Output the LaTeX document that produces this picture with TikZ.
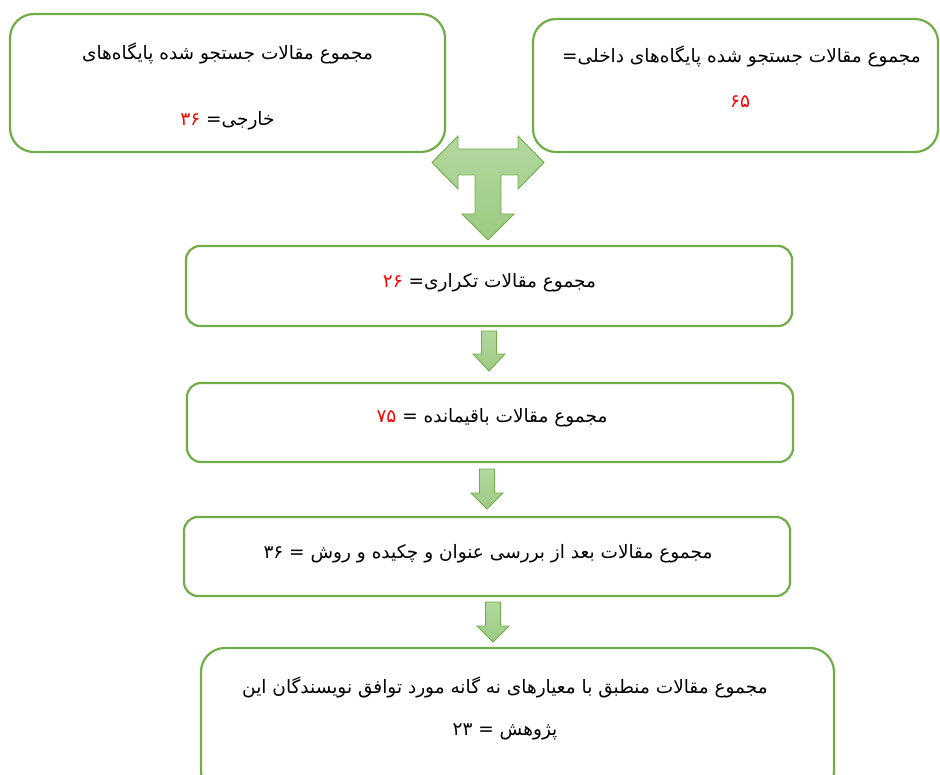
\documentclass[tikz,border=0pt]{standalone}
\usepackage{fontspec}
\usetikzlibrary{calc}
\TeXXeTstate=1
\newfontfamily\arabicfont[Script=Arabic]{DejaVu Sans}
\definecolor{boxgreen}{HTML}{70AD47}
\definecolor{arrowtop}{HTML}{B3D89F}
\definecolor{arrowbot}{HTML}{9DCA82}
\definecolor{numred}{HTML}{FF0000}
\newcommand\rtltext[1]{\beginR #1\endR}
\newcommand\ltrnum[1]{\beginL #1\endL{}}
\newcommand\rednum[1]{\beginL\textcolor{numred}{#1}\endL{}}
\tikzset{
  box/.style={draw=boxgreen, line width=2.2pt, rounded corners=#1, inner sep=0pt},
  txt/.style={font=\arabicfont\fontsize{18.5}{22}\selectfont, inner sep=0pt, anchor=base},
  blockarrow/.style={draw=boxgreen, line width=0.9pt, top color=arrowtop, bottom color=arrowbot, line join=miter},
}
\newcommand\blockdown[3]{%
  \path[blockarrow] let \p1=#1, \p2=#2 in
    (\x1-7.5pt,\y1) -- (\x1+7.5pt,\y1) -- (\x1+7.5pt,\y2+#3) -- (\x1+16pt,\y2+#3)
    -- (\x1,\y2) -- (\x1-16pt,\y2+#3) -- (\x1-7.5pt,\y2+#3) -- cycle;}
\begin{document}
\begin{tikzpicture}[x=1pt,y=-1pt]
\useasboundingbox (0,0) rectangle (940,775);
\clip (0,0) rectangle (940,775);
% boxes
\node[box=24pt, minimum width=435pt, minimum height=138pt] (b1) at (227.5,83) {};
\node[box=23pt, minimum width=405pt, minimum height=133pt] (b2) at (735.5,85.5) {};
\node[box=14pt, minimum width=606pt, minimum height=80pt] (b3) at (489,286) {};
\node[box=14pt, minimum width=606pt, minimum height=79pt] (b4) at (490,422.5) {};
\node[box=14pt, minimum width=606pt, minimum height=79pt] (b5) at (487,556.5) {};
\node[box=24pt, minimum width=633pt, minimum height=147pt] (b6) at (517.5,721.5) {};
% texts
\node[txt] (t1a) at (227.5,60) {\rtltext{مجموع مقالات جستجو شده پایگاه‌های}};
\node[txt] (t1b) at (227.5,126) {\rtltext{خارجی= \rednum{۳۶}}};
\node[txt] (t2a) at (741.5,63) {\rtltext{مجموع مقالات جستجو شده پایگاه‌های داخلی=}};
\node[txt] (t2b) at (740,108) {\rtltext{\rednum{۶۵}}};
\node[txt] (t3) at (489.5,288) {\rtltext{مجموع مقالات تکراری= \rednum{۲۶}}};
\node[txt] (t4) at (492,423) {\rtltext{مجموع مقالات باقیمانده = \rednum{۷۵}}};
\node[txt] (t5) at (488,558) {\rtltext{مجموع مقالات بعد از بررسی عنوان و چکیده و روش = \ltrnum{۳۶}}};
\node[txt] (t6a) at (505,693) {\rtltext{مجموع مقالات منطبق با معیارهای نه گانه مورد توافق نویسندگان این}};
\node[txt] (t6b) at (505,735) {\rtltext{پژوهش = \ltrnum{۲۳}}};
% T-shaped arrow from top boxes to b3
\path[blockarrow] (432,162.5) -- (458,136) -- (458,149) -- (518,149) -- (518,136)
  -- (544,162.5) -- (518,189) -- (518,175) -- (501,175) -- (501,214) -- (514,214)
  -- (488,240) -- (462,214) -- (475,214) -- (475,175) -- (458,175) -- (458,189) -- cycle;
% small arrows
\coordinate (a1s) at (489,331); \coordinate (a1e) at (489,371);
\coordinate (a2s) at (487,469); \coordinate (a2e) at (487,509);
\coordinate (a3s) at (493,602); \coordinate (a3e) at (493,642);
\blockdown{(a1s)}{(a1e)}{17pt}
\blockdown{(a2s)}{(a2e)}{16pt}
\blockdown{(a3s)}{(a3e)}{16pt}
\end{tikzpicture}
\end{document}
